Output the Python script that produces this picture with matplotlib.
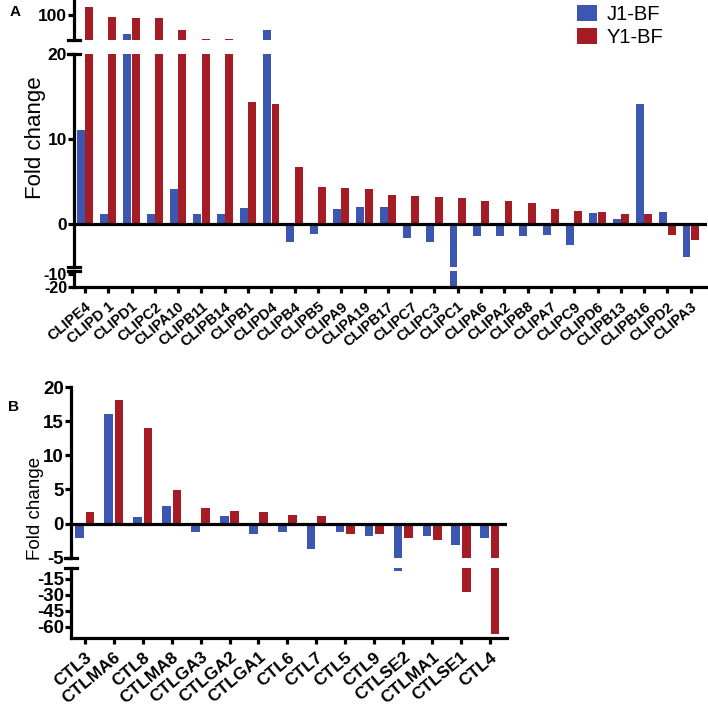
import numpy as np
import matplotlib
matplotlib.use("Agg")
import matplotlib.pyplot as plt
from matplotlib.lines import Line2D

plt.rcParams['font.family'] = ['Liberation Sans', 'DejaVu Sans']

# ---------------- data ----------------
series = ["J1-BF", "Y1-BF"]
colors = ["#3B57B2", "#A61C24"]

a_cats = ["CLIPE4", "CLIPD 1", "CLIPD1", "CLIPC2", "CLIPA10", "CLIPB11", "CLIPB14",
          "CLIPB1", "CLIPD4", "CLIPB4", "CLIPB5", "CLIPA9", "CLIPA19", "CLIPB17",
          "CLIPC7", "CLIPC3", "CLIPC1", "CLIPA6", "CLIPA2", "CLIPB8", "CLIPA7",
          "CLIPC9", "CLIPD6", "CLIPB13", "CLIPB16", "CLIPD2", "CLIPA3"]
a_j1 = [11.1, 1.14, 40, 1.14, 4.08, 1.14, 1.14, 1.88, 52.6, -2.08, -1.22, 1.76,
        2.04, 1.96, -1.69, -2.08, -20, -1.37, -1.45, -1.45, -1.3, -2.47, 1.25,
        0.59, 14.08, 1.37, -3.84]
a_y1 = [123.4, 93.7, 88.6, 88.6, 52.6, 24, 24, 14.3, 14.1, 6.74, 4.31, 4.24,
        4.16, 3.37, 3.29, 3.22, 3.02, 2.75, 2.75, 2.43, 1.8, 1.53, 1.41, 1.18,
        1.14, -1.29, -1.88]

b_cats = ["CTL3", "CTLMA6", "CTL8", "CTLMA8", "CTLGA3", "CTLGA2", "CTLGA1", "CTL6",
          "CTL7", "CTL5", "CTL9", "CTLSE2", "CTLMA1", "CTLSE1", "CTL4"]
b_j1 = [-2.1, 16.1, 1.0, 2.55, -1.2, 1.07, -1.46, -1.3, -3.68, -1.3, -1.85, -7.3,
        -1.8, -3.08, -2.15]
b_y1 = [1.75, 18.07, 14.0, 4.92, 2.3, 1.81, 1.66, 1.26, 1.16, -1.46, -1.6, -2.15,
        -2.35, -27, -67]

a_ticks = {"top": [100], "mid": [0, 10, 20], "bot": [-10, -20]}
b_ticks = {"up": [-5, 0, 5, 10, 15, 20], "low": [-15, -30, -45, -60]}

# ---------------- layout ----------------
W, H = 708, 704
fig = plt.figure(figsize=(W / 100, H / 100), dpi=100)

def rect(x0, x1, y0, y1):
    return [x0 / W, 1 - y1 / H, (x1 - x0) / W, (y1 - y0) / H]

LW = 2.3

def style(ax, bottom=False, xpad=2):
    for s in ["top", "right"]:
        ax.spines[s].set_visible(False)
    ax.spines["bottom"].set_visible(bottom)
    ax.spines["left"].set_linewidth(LW)
    ax.spines["bottom"].set_linewidth(LW)
    ax.tick_params(axis="y", direction="out", length=4, width=LW, pad=1)
    ax.tick_params(axis="x", direction="out", length=4, width=LW, pad=xpad)
    ax.patch.set_alpha(0)
    if not bottom:
        ax.set_xticks([])

def fig_dash(xpx, ypx, half=6):
    fig.add_artist(Line2D([(xpx - half) / W, (xpx + half) / W],
                          [1 - ypx / H, 1 - ypx / H], color="k", lw=LW,
                          transform=fig.transFigure))

# ---- Panel A ----
ax_top = fig.add_axes(rect(74, 707, 1, 40))
ax_mid = fig.add_axes(rect(74, 707, 54, 267))
ax_bot = fig.add_axes(rect(74, 707, 271, 287))
xa = np.arange(len(a_cats))
off_a, w_a = 0.18, 0.34
handles = None
for ax, yl, key in [(ax_top, (20, 143.3), "top"), (ax_mid, (-5.06, 20), "mid"),
                    (ax_bot, (-20, -7.9), "bot")]:
    h1 = ax.bar(xa - off_a, a_j1, w_a, color=colors[0], label=series[0])
    h2 = ax.bar(xa + off_a, a_y1, w_a, color=colors[1], label=series[1])
    if handles is None:
        handles = [h1, h2]
    ax.set_ylim(*yl)
    ax.set_xlim(-0.47, 26.7)
    ax.set_yticks(a_ticks[key])
    fs = 11.5 if key == "bot" else 12.5
    ax.set_yticklabels([str(t) for t in a_ticks[key]], fontsize=fs, fontweight="bold")
    style(ax, bottom=(key == "bot"), xpad=5)
ax_mid.axhline(0, color="k", lw=LW)
ax_bot.set_xticks(xa)
ax_bot.set_xticklabels(a_cats, rotation=40, ha="right", va="top",
                       rotation_mode="anchor", fontsize=10.5, fontweight="bold")
fig_dash(74, 40)
fig_dash(74, 54)
fig_dash(74, 267)
fig_dash(74, 271)
fig.text(36 / W, 1 - 138 / H, "Fold change", rotation=90, ha="center", va="center",
         fontsize=16)
fig.text(10 / W, 1 - 12 / H, "A", ha="left", va="center", fontsize=11, fontweight="bold")

fig.legend(handles=handles, labels=series, loc="upper left",
           bbox_to_anchor=(577 / W, 1 - 5 / H), frameon=False, fontsize=14.5,
           handlelength=1.0, handleheight=0.85, handletextpad=0.45,
           labelspacing=0.22, borderpad=0, borderaxespad=0)

# ---- Panel B ----
ax_up = fig.add_axes(rect(71, 507, 387, 557.7))
ax_low = fig.add_axes(rect(71, 507, 568.3, 638.3))
xb = np.arange(len(b_cats))
off_b, w_b = 0.18, 0.3
for ax, yl, key in [(ax_up, (-5, 20), "up"), (ax_low, (-71, -5), "low")]:
    ax.bar(xb - off_b, b_j1, w_b, color=colors[0])
    ax.bar(xb + off_b, b_y1, w_b, color=colors[1])
    ax.set_ylim(*yl)
    ax.set_xlim(-0.48, 14.59)
    ax.set_yticks(b_ticks[key])
    ax.set_yticklabels([str(t) for t in b_ticks[key]], fontsize=13.5, fontweight="bold")
    style(ax, bottom=(key == "low"), xpad=4)
ax_up.axhline(0, color="k", lw=LW)
ax_low.set_xticks(xb)
ax_low.set_xticklabels(b_cats, rotation=40, ha="right", va="top",
                       rotation_mode="anchor", fontsize=12.5, fontweight="bold")
fig_dash(71, 557.7)
fig_dash(71, 568.3)
fig.text(36 / W, 1 - 508 / H, "Fold change", rotation=90, ha="center", va="center",
         fontsize=13.5)
fig.text(8 / W, 1 - 407 / H, "B", ha="left", va="center", fontsize=11, fontweight="bold")

fig.savefig("out.png", dpi=100)
